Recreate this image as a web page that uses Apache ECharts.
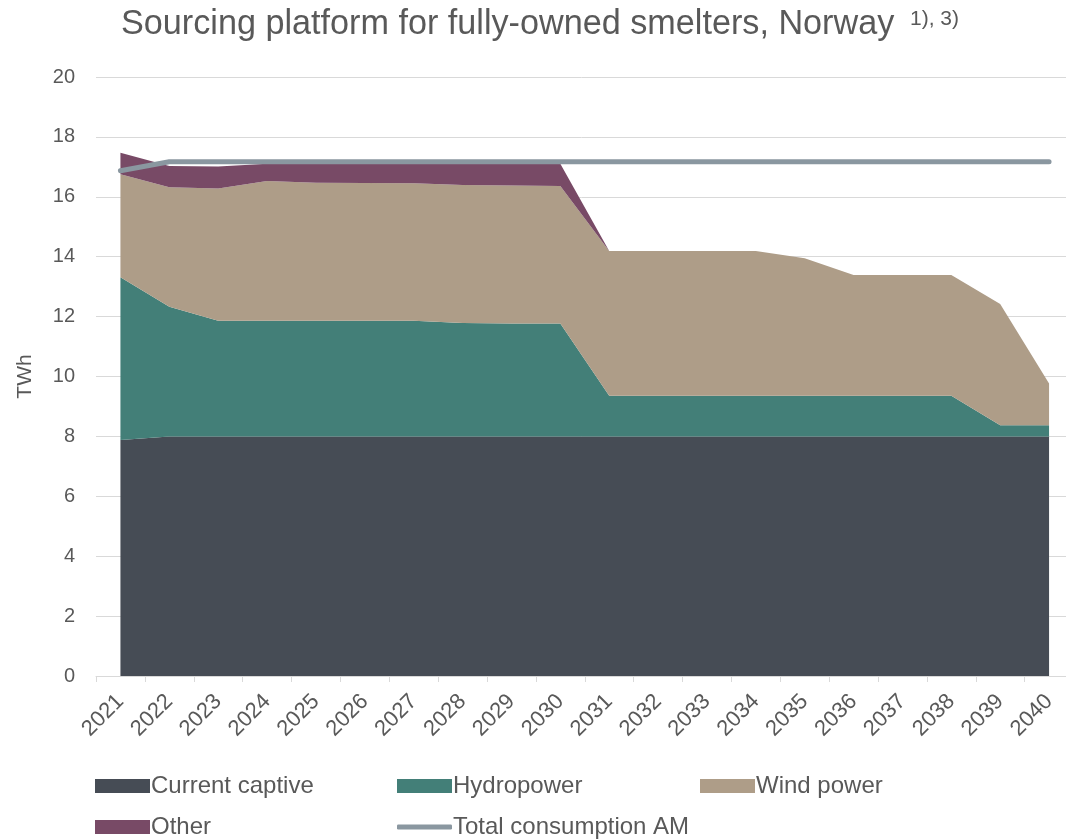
<!DOCTYPE html>
<html>
<head>
<meta charset="utf-8">
<script src="https://cdn.jsdelivr.net/npm/echarts@6/dist/echarts.min.js"></script>
<style>html,body{margin:0;padding:0;background:#fff;}#main{width:1066px;height:840px;}</style>
</head>
<body>
<div id="main"></div>
<script>
const years = ['2021','2022','2023','2024','2025','2026','2027','2028','2029','2030','2031','2032','2033','2034','2035','2036','2037','2038','2039','2040'];
const currentCaptive = [7.88,8.0,8.0,8.0,8.0,8.0,8.0,8.0,8.0,8.0,8.0,8.0,8.0,8.0,8.0,8.0,8.0,8.0,8.0,8.0];
const hydropower = [5.43,4.33,3.86,3.86,3.86,3.86,3.86,3.79,3.77,3.77,1.36,1.36,1.36,1.36,1.36,1.36,1.36,1.36,0.37,0.37];
const windPower = [3.44,3.99,4.42,4.67,4.61,4.60,4.59,4.60,4.61,4.59,4.83,4.83,4.83,4.83,4.59,4.03,4.03,4.03,4.05,1.40];
const other = [0.72,0.71,0.73,0.57,0.63,0.64,0.65,0.71,0.72,0.74,0,0,0,0,0,0,0,0,0,0];
const totalConsumption = [16.87,17.17,17.17,17.17,17.17,17.17,17.17,17.17,17.17,17.17,17.17,17.17,17.17,17.17,17.17,17.17,17.17,17.17,17.17,17.17];
const yTicks = {min:0,max:20,interval:2};

const txt = '#595959';
const font = 'Liberation Sans, Arial, sans-serif';
const colors = {captive:'#464c55', hydro:'#437f78', wind:'#ae9d88', other:'#784a66', total:'#8a97a0'};

function area(name, data, color){
  return {name, type:'line', stack:'s', data, symbol:'none', showSymbol:false,
    lineStyle:{width:0}, areaStyle:{color, opacity:1}, itemStyle:{color}, silent:true};
}
const legendBase = {orient:'horizontal', itemWidth:55, itemHeight:14, icon:'rect', itemGap:0, padding:0,
  textStyle:{color:txt, fontSize:24, fontFamily:font, padding:[0,0,0,-4]}};

const chart = echarts.init(document.getElementById('main'), null, {renderer:'canvas'});
chart.setOption({
  animation:false,
  backgroundColor:'#fff',
  title:[
    {text:'Sourcing platform for fully-owned smelters, Norway', left:116, top:3,
     textStyle:{fontSize:34.2, fontWeight:'normal', color:txt, fontFamily:font}},
    {text:'1), 3)', left:905, top:4,
     textStyle:{fontSize:21, fontWeight:'normal', color:txt, fontFamily:font}}
  ],
  grid:{left:96, width:977.5, top:77, bottom:164, containLabel:false, outerBoundsMode:'none'},
  legend:[
    Object.assign({}, legendBase, {left:95, top:774, data:['Current captive']}),
    Object.assign({}, legendBase, {left:397, top:774, data:['Hydropower']}),
    Object.assign({}, legendBase, {left:700, top:774, data:['Wind power']}),
    Object.assign({}, legendBase, {left:95, top:815, data:['Other']}),
    Object.assign({}, legendBase, {left:397, top:815, data:[{name:'Total consumption AM', icon:'roundRect', itemStyle:{color:colors.total}}], itemHeight:5})
  ],
  xAxis:{type:'category', data:years, boundaryGap:true,
    axisLine:{lineStyle:{color:'#d9d9d9', width:1}},
    axisTick:{show:true, length:6, lineStyle:{color:'#d9d9d9'}},
    axisLabel:{rotate:45, color:txt, fontSize:22, fontFamily:font, margin:22, interval:0}
  },
  yAxis:{type:'value', min:yTicks.min, max:yTicks.max, interval:yTicks.interval,
    name:'TWh', nameLocation:'middle', nameGap:60, nameRotate:90,
    nameTextStyle:{color:txt, fontSize:21, fontFamily:font},
    axisLine:{show:false}, axisTick:{show:false},
    axisLabel:{color:txt, fontSize:20, fontFamily:font, margin:21},
    splitLine:{lineStyle:{color:'#d9d9d9', width:1}}
  },
  series:[
    area('Current captive', currentCaptive, colors.captive),
    area('Hydropower', hydropower, colors.hydro),
    area('Wind power', windPower, colors.wind),
    area('Other', other, colors.other),
    {name:'Total consumption AM', type:'line', data:totalConsumption, symbol:'none', showSymbol:false,
      lineStyle:{color:colors.total, width:5, cap:'round', join:'round'}, itemStyle:{color:colors.total}, z:5, silent:true}
  ]
});
</script>
</body>
</html>
